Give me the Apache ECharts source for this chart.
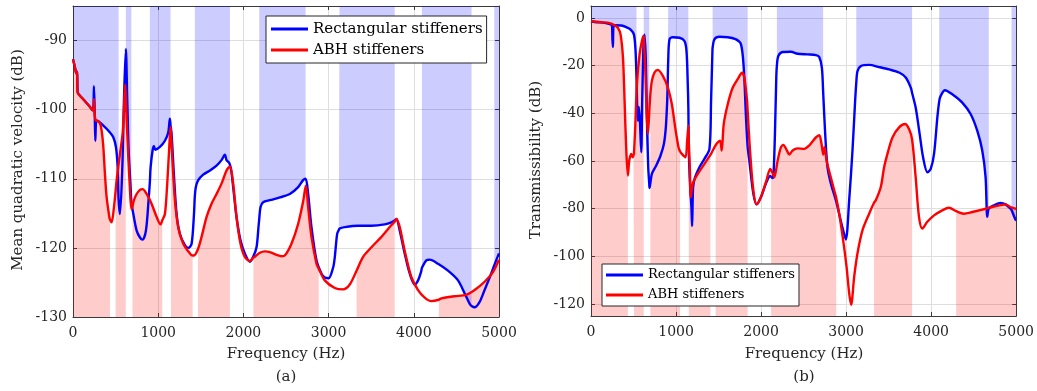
<!DOCTYPE html>
<html>
<head>
<meta charset="utf-8">
<script src="https://cdn.jsdelivr.net/npm/echarts@6/dist/echarts.min.js"></script>
<style>html,body{margin:0;padding:0;background:#fff}#c{width:1037px;height:391px}</style>
</head>
<body>
<div id="c"></div>
<script>
// ---------- data ----------
const seriesNames = ['Rectangular stiffeners', 'ABH stiffeners'];
const xTicks = [0, 1000, 2000, 3000, 4000, 5000];
const yTicksA = [-130, -120, -110, -100, -90];
const yTicksB = [-120, -100, -80, -60, -40, -20, 0];

// stop bands (Hz)
const bandsRect = [[0,535],[620,685],[902,1145],[1430,1842],[2186,2730],[3120,3776],[4095,4678],[4945,5000]];
const bandsABH  = [[0,434],[500,620],[698,1048],[1150,1404],[1466,1842],[2118,2884],[3328,3776],[4294,5000]];

// (a) mean quadratic velocity, rectangular stiffeners
const freqA_rect = [0,25,40,48,55,70,120,200,230,240,246,255,262,270,280,356,434,473,504,524,535,551,579,598,620,637,653,676,685,708,747,786,817,856,887,902,911,934,950,966,1020,1079,1118,1137,1145,1157,1184,1216,1255,1313,1353,1392,1420,1430,1442,1470,1528,1607,1685,1743,1783,1802,1833,1842,1855,1880,1919,1966,2017,2076,2115,2154,2177,2186,2201,2232,2310,2428,2545,2643,2701,2730,2760,2799,2858,2916,2955,3000,3054,3073,3100,3120,3128,3190,3346,3503,3659,3737,3776,3796,3835,3893,3952,4011,4050,4089,4095,4147,4186,4284,4401,4519,4597,4656,4678,4714,4773,4831,4909,4945,5000];
const valA_rect = [-92.7,-94.0,-94.8,-94.5,-97.5,-97.8,-98.5,-99.6,-100.1,-99.5,-96.6,-100.5,-104.5,-101.8,-101.6,-102.3,-103.3,-104.0,-105.4,-108.3,-113.0,-115.1,-108.3,-98.7,-91.2,-98.7,-105.9,-111.2,-113.3,-115.1,-117.5,-118.5,-118.8,-117.5,-113.1,-110.5,-108.3,-105.9,-105.3,-105.8,-105.4,-104.5,-103.3,-101.3,-102.3,-103.5,-109.3,-115.1,-118.0,-119.6,-120.0,-119.4,-115.1,-112.5,-111.2,-110.2,-109.4,-108.8,-108.1,-107.3,-106.5,-107.3,-107.7,-108.0,-108.6,-111.2,-115.5,-118.9,-120.8,-122.0,-121.3,-119.9,-117.0,-115.8,-114.1,-113.4,-113.1,-112.7,-112.2,-111.2,-110.2,-110.0,-112.2,-117.0,-121.8,-123.7,-124.3,-124.4,-122.8,-121.3,-118.0,-117.4,-117.2,-117.0,-116.8,-116.8,-116.6,-116.3,-116.0,-115.8,-117.5,-120.8,-123.7,-125.3,-124.7,-123.3,-122.9,-121.8,-121.7,-122.3,-123.3,-124.7,-126.6,-128.1,-128.4,-128.6,-127.8,-126.1,-123.7,-122.5,-120.8];

// (a) mean quadratic velocity, ABH stiffeners
const freqA_abh = [0,25,40,48,55,70,120,200,230,240,246,255,270,280,317,336,356,375,395,426,434,453,481,500,512,551,582,598,612,620,637,661,688,698,715,747,786,817,864,922,981,1028,1048,1079,1106,1130,1145,1150,1165,1196,1235,1294,1372,1404,1420,1466,1509,1568,1626,1685,1743,1802,1842,1880,1919,1966,2017,2076,2118,2134,2193,2252,2310,2389,2447,2486,2564,2643,2701,2733,2760,2799,2858,2884,2955,3073,3170,3248,3328,3405,3503,3620,3737,3776,3796,3835,3893,3971,4050,4128,4206,4294,4323,4479,4616,4714,4831,4929,5000];
const valA_abh = [-92.7,-94.0,-94.8,-94.5,-97.5,-97.8,-98.5,-99.6,-100.1,-99.8,-98.5,-100.8,-101.6,-101.6,-102.0,-103.0,-105.4,-109.3,-112.7,-115.5,-115.9,-116.3,-114.1,-111.8,-110.2,-106.4,-103.5,-100.1,-96.4,-98.5,-103.5,-109.8,-114.4,-114.0,-113.1,-112.2,-111.6,-111.5,-112.2,-113.6,-115.5,-116.6,-116.0,-115.1,-110.7,-105.4,-102.5,-103.3,-106.9,-113.1,-117.0,-119.4,-120.8,-121.1,-121.1,-120.2,-118.4,-115.5,-113.6,-112.2,-110.7,-108.8,-108.2,-110.7,-115.5,-119.4,-121.3,-121.9,-121.4,-121.3,-120.7,-120.5,-120.6,-121.0,-121.2,-121.1,-119.4,-116.5,-113.3,-111.0,-114.1,-118.4,-122.3,-123.0,-124.7,-125.8,-126.0,-125.3,-123.3,-121.3,-119.9,-118.4,-116.7,-116.2,-115.8,-117.0,-120.4,-124.2,-126.1,-127.2,-127.7,-127.5,-127.3,-127.0,-126.8,-126.1,-124.9,-123.5,-121.7];

// (b) transmissibility, rectangular stiffeners
const freqB_rect = [0,43,160,220,246,252,258,264,286,356,415,466,505,524,535,544,552,563,575,591,602,614,620,630,645,657,673,685,688,716,767,818,857,880,896,902,908,923,962,1041,1099,1123,1138,1145,1150,1166,1181,1189,1201,1224,1275,1334,1393,1412,1428,1430,1451,1510,1608,1706,1764,1796,1823,1842,1862,1909,1948,1999,2058,2108,2136,2147,2163,2179,2186,2203,2253,2351,2429,2547,2645,2684,2715,2730,2754,2781,2821,2880,2926,2965,2997,3036,3075,3106,3120,3134,3173,3271,3388,3505,3623,3701,3760,3776,3818,3865,3905,3956,3995,4034,4073,4095,4112,4162,4248,4366,4464,4542,4601,4640,4660,4678,4738,4816,4875,4933,4945,4992,5000];
const valB_rect = [-1.4,-1.7,-2.1,-2.6,-3.0,-9.0,-12.2,-3.5,-3.1,-3.2,-3.9,-4.9,-7.0,-13.9,-25.0,-38.9,-43.1,-37.3,-43.1,-56.3,-34.8,-15.3,-10.0,-7.0,-18.1,-41.7,-62.6,-69.5,-71.3,-65.4,-61.9,-57.7,-52.9,-45.9,-34.8,-27.0,-18.1,-9.0,-8.1,-8.3,-9.7,-13.9,-27.8,-38.0,-55.6,-70.9,-79.3,-87.3,-70.9,-66.8,-62.6,-59.1,-54.9,-34.8,-13.9,-12.5,-9.0,-7.9,-8.1,-9.0,-11.1,-20.9,-41.7,-54.0,-59.8,-73.7,-78.2,-75.1,-69.3,-66.3,-67.2,-65.4,-48.7,-25.0,-20.0,-16.0,-14.3,-14.2,-15.0,-15.3,-15.6,-16.4,-20.9,-31.0,-48.7,-62.6,-69.5,-76.5,-83.4,-89.0,-92.9,-76.5,-55.6,-34.8,-27.0,-22.3,-20.2,-19.7,-20.6,-21.6,-22.9,-25.0,-29.2,-31.5,-37.6,-48.7,-58.4,-64.7,-63.3,-57.0,-41.7,-35.0,-32.7,-30.3,-32.0,-35.5,-40.3,-47.3,-55.6,-66.8,-83.4,-80.0,-78.6,-77.6,-78.2,-80.0,-80.6,-84.6,-84.8];

// (b) transmissibility, ABH stiffeners
const freqB_abh = [0,121,219,278,317,348,376,395,415,434,450,473,489,500,505,520,540,571,599,618,620,638,653,669,688,698,716,747,786,845,904,951,990,1029,1048,1068,1111,1131,1146,1150,1162,1174,1197,1256,1334,1404,1412,1466,1491,1518,1537,1561,1608,1667,1725,1776,1803,1835,1842,1870,1909,1948,1999,2058,2108,2118,2140,2156,2195,2234,2261,2304,2332,2371,2429,2508,2566,2645,2684,2711,2731,2746,2770,2809,2860,2884,2919,2965,3005,3036,3059,3095,3134,3193,3271,3328,3349,3408,3447,3486,3545,3623,3693,3740,3776,3818,3857,3896,3955,4034,4131,4209,4288,4294,4385,4483,4600,4718,4835,4875,4933,5000];
const valB_abh = [-1.4,-1.8,-2.2,-3.1,-4.2,-7.0,-16.7,-34.8,-55.6,-66.1,-59.8,-57.0,-58.4,-57.5,-57.0,-45.9,-27.8,-15.3,-9.7,-7.6,-8.5,-20.9,-38.9,-48.7,-37.6,-32.0,-26.4,-22.9,-21.8,-24.3,-29.2,-36.2,-45.9,-54.2,-56.0,-57.0,-58.4,-51.5,-45.2,-52.0,-62.6,-75.1,-69.5,-65.4,-61.2,-57.4,-57.0,-53.3,-52.2,-51.5,-55.6,-44.5,-36.2,-29.2,-25.7,-23.0,-25.0,-34.8,-39.0,-55.6,-72.3,-78.2,-75.1,-68.8,-63.3,-63.8,-65.4,-66.8,-59.8,-54.2,-53.3,-55.6,-57.3,-55.6,-54.7,-54.9,-53.5,-50.1,-49.2,-52.9,-57.3,-54.2,-59.8,-65.4,-72.3,-75.5,-82.1,-93.2,-104.3,-115.4,-120.3,-108.5,-98.7,-89.0,-82.1,-77.5,-76.5,-70.9,-62.6,-57.0,-50.1,-45.9,-44.5,-46.6,-51.0,-66.8,-83.4,-88.3,-85.5,-82.8,-80.7,-79.6,-80.9,-81.0,-82.1,-81.4,-80.4,-79.3,-78.4,-78.2,-79.3,-80.1];

// ---------- helpers ----------
const zip = (f, v) => f.map((x, i) => [x, v[i]]);
function bandPart(f, v, bands) {
  const out = [];
  bands.forEach((b, bi) => {
    if (bi > 0) out.push([b[0], null]);
    for (let i = 0; i < f.length; i++) if (f[i] >= b[0] && f[i] <= b[1]) out.push([f[i], v[i]]);
  });
  return out;
}

const FONT = 'DejaVu Serif';
const TXT = '#262626';
const AX = '#3a3a3a';
const BLUE = '#0000ff', RED = '#ff0000';
const BLUEFILL = 'rgba(0,0,255,0.2)', REDFILL = 'rgba(255,0,0,0.2)';
const SMOOTH = 0.3;
const LW = 2.4;

const grids = [
  {left: 73, top: 6, width: 426, height: 311},
  {left: 591, top: 6, width: 426, height: 310}
];

function xAxes(gi) {
  const base = {gridIndex: gi, type: 'value', min: 0, max: 5000, interval: 1000};
  return [
    Object.assign({}, base, {
      position: 'bottom',
      axisLine: {show: true, onZero: false, lineStyle: {color: AX, width: 1}},
      axisTick: {show: true, inside: true, length: 4, customValues: xTicks, lineStyle: {color: AX}},
      axisLabel: {show: true, margin: 9, customValues: xTicks, color: TXT, fontFamily: FONT, fontSize: 14,
                  formatter: v => String(v)},
      splitLine: {show: true, lineStyle: {color: '#dedede', width: 1}}
    }),
    Object.assign({}, base, {
      position: 'top',
      axisLine: {show: true, onZero: false, lineStyle: {color: AX, width: 1}},
      axisTick: {show: true, inside: true, length: 4, customValues: xTicks, lineStyle: {color: AX}},
      axisLabel: {show: false},
      splitLine: {show: false}
    })
  ];
}
function yAxes(gi, min, max, ticks) {
  const base = {gridIndex: gi, type: 'value', min: min, max: max};
  return [
    Object.assign({}, base, {
      position: 'left',
      axisLine: {show: true, onZero: false, lineStyle: {color: AX, width: 1}},
      axisTick: {show: true, inside: true, length: 4, customValues: ticks, lineStyle: {color: AX}},
      axisLabel: {show: true, margin: 6, customValues: ticks, color: TXT, fontFamily: FONT, fontSize: 14,
                  formatter: v => String(v)},
      splitLine: {show: true, lineStyle: {color: '#dedede', width: 1}}
    }),
    Object.assign({}, base, {
      position: 'right',
      axisLine: {show: true, onZero: false, lineStyle: {color: AX, width: 1}},
      axisTick: {show: true, inside: true, length: 4, customValues: ticks, lineStyle: {color: AX}},
      axisLabel: {show: false},
      splitLine: {show: false}
    })
  ];
}

function plotSeries(xi, yi, fr, vr, fa, va) {
  return [
    {name: 'fill-rect-' + xi, type: 'line', xAxisIndex: xi, yAxisIndex: yi, data: bandPart(fr, vr, bandsRect),
     showSymbol: false, silent: true, z: 1, smooth: SMOOTH, lineStyle: {width: 0, opacity: 0},
     areaStyle: {origin: 'end', color: BLUEFILL, opacity: 1}, connectNulls: false},
    {name: 'fill-abh-' + xi, type: 'line', xAxisIndex: xi, yAxisIndex: yi, data: bandPart(fa, va, bandsABH),
     showSymbol: false, silent: true, z: 1, smooth: SMOOTH, lineStyle: {width: 0, opacity: 0},
     areaStyle: {origin: 'start', color: REDFILL, opacity: 1}, connectNulls: false},
    {name: seriesNames[0], type: 'line', xAxisIndex: xi, yAxisIndex: yi, data: zip(fr, vr),
     showSymbol: false, z: 3, smooth: SMOOTH, color: BLUE, lineStyle: {color: BLUE, width: LW}},
    {name: seriesNames[1], type: 'line', xAxisIndex: xi, yAxisIndex: yi, data: zip(fa, va),
     showSymbol: false, z: 4, smooth: SMOOTH, color: RED, lineStyle: {color: RED, width: LW}}
  ];
}

const legendBase = {
  data: seriesNames, orient: 'vertical', icon: 'rect', itemWidth: 37, itemHeight: 3,
  borderColor: '#262626', borderWidth: 1, backgroundColor: '#ffffff', selectedMode: false
};

const option = {
  animation: false,
  backgroundColor: '#ffffff',
  grid: grids,
  xAxis: [...xAxes(0), ...xAxes(1)],
  yAxis: [...yAxes(0, -130, -85, yTicksA), ...yAxes(1, -125, 5, yTicksB)],
  legend: [
    Object.assign({}, legendBase, {left: 266, top: 16, padding: [4, 4, 4, 5], itemGap: 3,
      textStyle: {fontFamily: FONT, fontSize: 15, color: '#000', lineHeight: 18}}),
    Object.assign({}, legendBase, {left: 602, top: 264, padding: [3, 4, 3, 4], itemGap: 4,
      textStyle: {fontFamily: FONT, fontSize: 13, color: '#000', lineHeight: 16}})
  ],
  series: [
    ...plotSeries(0, 0, freqA_rect, valA_rect, freqA_abh, valA_abh),
    ...plotSeries(2, 2, freqB_rect, valB_rect, freqB_abh, valB_abh)
  ],
  graphic: [
    {type: 'text', x: 286, y: 354, style: {text: 'Frequency (Hz)', fontFamily: FONT, fontSize: 15, fill: TXT, align: 'center', verticalAlign: 'middle'}},
    {type: 'text', x: 804, y: 354, style: {text: 'Frequency (Hz)', fontFamily: FONT, fontSize: 15, fill: TXT, align: 'center', verticalAlign: 'middle'}},
    {type: 'text', x: 286, y: 377, style: {text: '(a)', fontFamily: FONT, fontSize: 15, fill: TXT, align: 'center', verticalAlign: 'middle'}},
    {type: 'text', x: 804, y: 377, style: {text: '(b)', fontFamily: FONT, fontSize: 15, fill: TXT, align: 'center', verticalAlign: 'middle'}},
    {type: 'text', x: 18, y: 160, rotation: Math.PI / 2, style: {text: 'Mean quadratic velocity (dB)', fontFamily: FONT, fontSize: 15, fill: TXT, align: 'center', verticalAlign: 'middle'}},
    {type: 'text', x: 536, y: 160, rotation: Math.PI / 2, style: {text: 'Transmissibility (dB)', fontFamily: FONT, fontSize: 15, fill: TXT, align: 'center', verticalAlign: 'middle'}}
  ]
};

const chart = echarts.init(document.getElementById('c'), null, {renderer: 'canvas'});
chart.setOption(option);
</script>
</body>
</html>
